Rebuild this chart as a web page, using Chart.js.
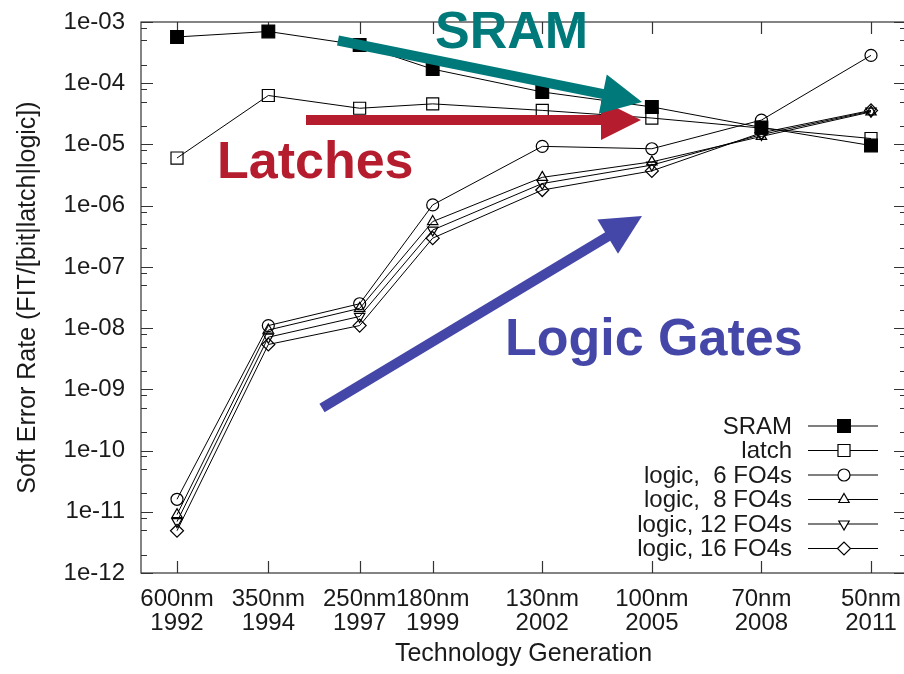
<!DOCTYPE html>
<html>
<head>
<meta charset="utf-8">
<script src="https://cdn.jsdelivr.net/npm/chart.js@4.4.0/dist/chart.umd.min.js"></script>
<style>
  body { margin: 0; overflow: hidden; background: #fff; }
  #wrap { width: 904px; height: 674px; }
</style>
</head>
<body>
<div id="wrap"><canvas id="serChart"></canvas></div>
<script>
// technology generations (x placed by year)
const years = [1992, 1994.5, 1997, 1999, 2002, 2005, 2008, 2011];
const nodeLabels = ['600nm', '350nm', '250nm', '180nm', '130nm', '100nm', '70nm', '50nm'];
const yearLabels = ['1992', '1994', '1997', '1999', '2002', '2005', '2008', '2011'];

// soft error rate, FIT per bit / latch / logic gate
const sram    = [5.7e-4, 7.0e-4, 4.2e-4, 1.7e-4, 7.2e-5, 4.1e-5, 1.9e-5, 9.6e-6];
const latch   = [6.0e-6, 6.3e-5, 3.9e-5, 4.6e-5, 3.6e-5, 2.7e-5, 1.85e-5, 1.25e-5];
const logic6  = [1.6e-11, 1.1e-8, 2.5e-8, 1.03e-6, 9.3e-6, 8.5e-6, 2.5e-5, 2.85e-4];
const logic8  = [9.0e-12, 9.3e-9, 2.1e-8, 5.5e-7, 2.9e-6, 5.2e-6, 1.35e-5, 3.4e-5];
const logic12 = [6.9e-12, 7.1e-9, 1.55e-8, 4.0e-7, 2.3e-6, 4.6e-6, 1.45e-5, 3.5e-5];
const logic16 = [4.9e-12, 5.4e-9, 1.1e-8, 2.95e-7, 1.8e-6, 3.7e-6, 1.55e-5, 3.6e-5];

const seriesNames = ['SRAM', 'latch', 'logic,  6 FO4s', 'logic,  8 FO4s', 'logic, 12 FO4s', 'logic, 16 FO4s'];
const decades = [-12, -11, -10, -9, -8, -7, -6, -5, -4, -3];
const minorSteps = [2, 5, 8];

const FONT = "'Liberation Sans', Arial, Helvetica, sans-serif";
const FRAME = '#333';
const PLOT_RIGHT = 906; // frame sits just past the right edge of the picture

function pts(vals) {
    return vals.map((v, i) => ({ x: years[i], y: v }));
}

function makeSet(label, vals, style, filled, radius, rotation) {
    return {
        label: label,
        data: pts(vals),
        borderColor: '#000',
        borderWidth: 1,
        pointStyle: style,
        pointRadius: radius,
        pointRotation: rotation || 0,
        pointBorderColor: '#000',
        pointBorderWidth: 1.2,
        pointBackgroundColor: filled ? '#000' : 'rgba(0,0,0,0)',
        pointHoverRadius: radius,
        tension: 0,
        fill: false
    };
}

const datasets = [
    makeSet(seriesNames[0], sram, 'rect', true, 9),
    makeSet(seriesNames[1], latch, 'rect', false, 8.5),
    makeSet(seriesNames[2], logic6, 'circle', false, 6),
    makeSet(seriesNames[3], logic8, 'triangle', false, 6),
    makeSet(seriesNames[4], logic12, 'triangle', false, 6, 180),
    makeSet(seriesNames[5], logic16, 'rectRot', false, 6.5)
];

// stretch the plot area so its right edge lands at PLOT_RIGHT
const widenPlugin = {
    id: 'widen',
    afterLayout(chart) {
        const a = chart.chartArea, s = chart.scales.x;
        a.right = PLOT_RIGHT;
        a.width = a.right - a.left;
        s.right = PLOT_RIGHT;
        s.width = s.right - s.left;
        s.configure();
    }
};

// frame with inward tick marks on all four sides
const framePlugin = {
    id: 'frame',
    beforeDatasetsDraw(chart) {
        const { ctx, chartArea: a, scales } = chart;
        ctx.save();
        ctx.strokeStyle = FRAME;
        ctx.lineWidth = 1.2;
        ctx.strokeRect(a.left, a.top, a.right - a.left, a.bottom - a.top);
        ctx.beginPath();
        scales.y.ticks.forEach(t => {
            const y = Math.round(scales.y.getPixelForValue(t.value)) + 0.5;
            const len = t.major ? 12 : 6;
            ctx.moveTo(a.left, y); ctx.lineTo(a.left + len, y);
            ctx.moveTo(a.right, y); ctx.lineTo(a.right - len, y);
        });
        years.forEach(v => {
            const x = Math.round(scales.x.getPixelForValue(v)) + 0.5;
            ctx.moveTo(x, a.bottom); ctx.lineTo(x, a.bottom - 12);
            ctx.moveTo(x, a.top); ctx.lineTo(x, a.top + 12);
        });
        ctx.stroke();
        ctx.restore();
    }
};

// legend in the lower right: right-aligned text, then line sample with marker
const keyPlugin = {
    id: 'key',
    afterDatasetsDraw(chart) {
        const { ctx, chartArea: a } = chart;
        ctx.save();
        ctx.font = '24px ' + FONT;
        ctx.textAlign = 'right';
        ctx.textBaseline = 'middle';
        chart.data.datasets.forEach((ds, i) => {
            const y = a.bottom - 147 + i * 24.5;
            ctx.fillStyle = '#1a1a1a';
            ctx.fillText(ds.label, a.right - 114, y + 1);
            ctx.strokeStyle = '#000';
            ctx.lineWidth = 1.2;
            ctx.beginPath();
            ctx.moveTo(a.right - 98, y);
            ctx.lineTo(a.right - 28, y);
            ctx.stroke();
            ctx.fillStyle = ds.pointBackgroundColor === '#000' ? '#000' : '#fff';
            Chart.helpers.drawPoint(ctx, {
                pointStyle: ds.pointStyle,
                radius: ds.pointRadius,
                rotation: ds.pointRotation,
                borderWidth: 1.2
            }, a.right - 62, y);
        });
        ctx.restore();
    }
};

// coloured arrows and captions drawn over the plot
const notes = [
    { text: 'Latches', color: '#b51c2e', tx: 217, ty: 178, from: [306, 120], to: [641, 120] },
    { text: 'SRAM', color: '#00797a', tx: 435, ty: 48, from: [338, 40.5], to: [642, 102] },
    { text: 'Logic Gates', color: '#4547a8', tx: 505, ty: 355, from: [322, 408], to: [642, 216] }
];

function arrow(ctx, x0, y0, x1, y1, color) {
    const dx = x1 - x0, dy = y1 - y0;
    const len = Math.sqrt(dx * dx + dy * dy);
    const ux = dx / len, uy = dy / len;
    const bx = x1 - ux * 40, by = y1 - uy * 40;
    ctx.strokeStyle = color;
    ctx.fillStyle = color;
    ctx.lineWidth = 10;
    ctx.lineCap = 'butt';
    ctx.beginPath();
    ctx.moveTo(x0, y0);
    ctx.lineTo(bx + ux * 2, by + uy * 2);
    ctx.stroke();
    ctx.beginPath();
    ctx.moveTo(x1, y1);
    ctx.lineTo(bx - uy * 20, by + ux * 20);
    ctx.lineTo(bx + uy * 20, by - ux * 20);
    ctx.closePath();
    ctx.fill();
}

const notePlugin = {
    id: 'notes',
    afterDraw(chart) {
        const ctx = chart.ctx;
        ctx.save();
        ctx.font = 'bold 52px ' + FONT;
        ctx.textAlign = 'left';
        ctx.textBaseline = 'alphabetic';
        notes.forEach(n => {
            arrow(ctx, n.from[0], n.from[1], n.to[0], n.to[1], n.color);
            ctx.fillStyle = n.color;
            ctx.fillText(n.text, n.tx, n.ty);
        });
        ctx.restore();
    }
};

Chart.defaults.font.family = FONT;
Chart.defaults.color = '#1a1a1a';

new Chart(document.getElementById('serChart'), {
    type: 'line',
    data: { datasets: datasets },
    options: {
        responsive: true,
        maintainAspectRatio: false,
        animation: false,
        layout: { padding: { top: 22, right: 0, left: 0, bottom: 0 } },
        plugins: {
            legend: { display: false },
            tooltip: { enabled: false }
        },
        scales: {
            x: {
                type: 'linear',
                min: 1991.014,
                max: 2011.958,
                grid: { display: false, drawTicks: false },
                border: { display: false },
                afterBuildTicks: s => { s.ticks = years.map(v => ({ value: v })); },
                afterFit: s => { s.height = 101; s.paddingLeft = 0; s.paddingRight = 0; },
                ticks: {
                    autoSkip: false,
                    maxRotation: 0,
                    minRotation: 0,
                    padding: 14,
                    font: { size: 24, lineHeight: 1.0 },
                    callback: (v, i) => [nodeLabels[i], yearLabels[i]]
                },
                title: {
                    display: true,
                    text: 'Technology Generation',
                    font: { size: 25 },
                    padding: { top: 0, bottom: 5 }
                }
            },
            y: {
                type: 'logarithmic',
                min: 1e-12,
                max: 1e-3,
                grid: { display: false, drawTicks: false },
                border: { display: false },
                afterBuildTicks: s => {
                    const t = [];
                    decades.forEach(d => {
                        t.push({ value: Math.pow(10, d), major: true });
                        if (d < -3) minorSteps.forEach(m => t.push({ value: m * Math.pow(10, d), major: false }));
                    });
                    s.ticks = t;
                },
                afterFit: s => { s.width = 141; s.paddingTop = 0; s.paddingBottom = 0; },
                ticks: {
                    autoSkip: false,
                    padding: 16,
                    font: { size: 24 },
                    callback: function (v, i, ticks) {
                        const e = Math.round(Math.log10(v));
                        if (Math.abs(v - Math.pow(10, e)) > 1e-6 * Math.pow(10, e)) return '';
                        const n = Math.abs(e);
                        return '1e' + (e < 0 ? '-' : '+') + (n < 10 ? '0' + n : n);
                    }
                },
                title: {
                    display: true,
                    text: 'Soft Error Rate (FIT/[bit|latch|logic])',
                    font: { size: 25 },
                    padding: { top: 13, bottom: 0 }
                }
            }
        }
    },
    plugins: [widenPlugin, framePlugin, keyPlugin, notePlugin]
});
</script>
</body>
</html>
